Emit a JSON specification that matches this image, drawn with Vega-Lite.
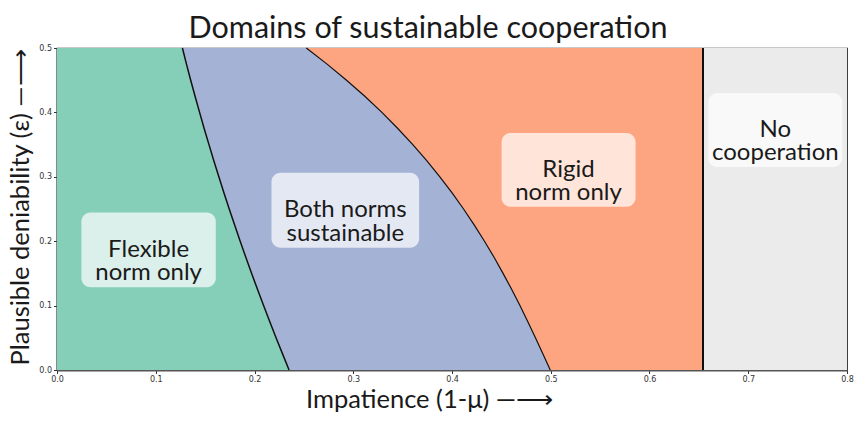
{
  "$schema": "https://vega.github.io/schema/vega-lite/v6.json",
  "width": 790,
  "height": 322,
  "autosize": {"type": "none"},
  "padding": {"left": 57, "top": 48, "right": 9, "bottom": 58},
  "background": "white",
  "title": {
    "text": "Domains of sustainable cooperation",
    "font": "Lato",
    "fontSize": 30.5,
    "fontWeight": "normal",
    "color": "#1a1a1a",
    "anchor": "middle",
    "frame": "group",
    "baseline": "alphabetic",
    "offset": 10,
    "dy": 34,
    "dx": -24
  },
  "config": {
    "view": {"stroke": "#2b2b2b", "strokeWidth": 1.2},
    "axis": {
      "grid": false,
      "labelFont": "DejaVu Sans",
      "labelFontSize": 8,
      "labelColor": "#333",
      "labelFlush": false,
      "tickColor": "#333",
      "tickSize": 3.5,
      "labelPadding": 2,
      "domainColor": "#555",
      "domainWidth": 2,
      "titleFont": "Lato",
      "titleFontSize": 25.5,
      "titleFontWeight": "normal",
      "titleColor": "#1a1a1a"
    }
  },
  "datasets": {
    "bounds": [
      {"eps": 0.0, "b1": 0.235, "b2": 0.4995},
      {"eps": 0.025, "b1": 0.2284, "b2": 0.4921},
      {"eps": 0.05, "b1": 0.2218, "b2": 0.4845},
      {"eps": 0.075, "b1": 0.2155, "b2": 0.4768},
      {"eps": 0.1, "b1": 0.2092, "b2": 0.4688},
      {"eps": 0.125, "b1": 0.2031, "b2": 0.4605},
      {"eps": 0.15, "b1": 0.1971, "b2": 0.4517},
      {"eps": 0.175, "b1": 0.1912, "b2": 0.4426},
      {"eps": 0.2, "b1": 0.1855, "b2": 0.4329},
      {"eps": 0.225, "b1": 0.1799, "b2": 0.4226},
      {"eps": 0.25, "b1": 0.1744, "b2": 0.4117},
      {"eps": 0.275, "b1": 0.1691, "b2": 0.4001},
      {"eps": 0.3, "b1": 0.1639, "b2": 0.3877},
      {"eps": 0.325, "b1": 0.1588, "b2": 0.3744},
      {"eps": 0.35, "b1": 0.1539, "b2": 0.3603},
      {"eps": 0.375, "b1": 0.149, "b2": 0.3451},
      {"eps": 0.4, "b1": 0.1444, "b2": 0.329},
      {"eps": 0.425, "b1": 0.1398, "b2": 0.3117},
      {"eps": 0.45, "b1": 0.1354, "b2": 0.2932},
      {"eps": 0.475, "b1": 0.1311, "b2": 0.2735},
      {"eps": 0.5, "b1": 0.127, "b2": 0.2525}
    ],
    "labels": [
      {"lines": ["Flexible", "norm only"], "cx": 0.0928, "cy": 0.1865, "bx1": 0.0247, "bx2": 0.1608, "by1": 0.1283, "by2": 0.2446},
      {"lines": ["Both norms", "sustainable"], "cx": 0.292, "cy": 0.248, "bx1": 0.2172, "bx2": 0.3667, "by1": 0.1898, "by2": 0.3061},
      {"lines": ["Rigid", "norm only"], "cx": 0.518, "cy": 0.3108, "bx1": 0.4502, "bx2": 0.5859, "by1": 0.2534, "by2": 0.3682},
      {"lines": ["No", "cooperation"], "cx": 0.7274, "cy": 0.3728, "bx1": 0.6595, "bx2": 0.7952, "by1": 0.3154, "by2": 0.4302}
    ]
  },
  "layer": [
    {
      "data": {"name": "bounds"},
      "mark": {"type": "area", "orient": "horizontal", "color": "#85ceb7", "opacity": 1},
      "encoding": {
        "y": {
          "field": "eps", "type": "quantitative",
          "scale": {"domain": [0, 0.5], "nice": false, "zero": false},
          "axis": {
            "values": [0, 0.1, 0.2, 0.3, 0.4, 0.5], "format": ".1f",
            "title": "Plausible deniability (ε) —⟶",
            "titleAngle": -90, "titleX": -29, "titleY": 159,
            "titleAlign": "center", "titleBaseline": "alphabetic"
          }
        },
        "x": {
          "field": "b1", "type": "quantitative",
          "scale": {"domain": [0, 0.8], "nice": false, "zero": false},
          "axis": {
            "values": [0, 0.1, 0.2, 0.3, 0.4, 0.5, 0.6, 0.7, 0.8], "format": ".1f",
            "title": "Impatience (1-μ) —⟶",
            "titleX": 372, "titleY": 37,
            "titleAlign": "center", "titleBaseline": "alphabetic"
          }
        },
        "x2": {"datum": 0}
      }
    },
    {
      "data": {"name": "bounds"},
      "mark": {"type": "area", "orient": "horizontal", "color": "#a4b2d5", "opacity": 1},
      "encoding": {
        "y": {"field": "eps", "type": "quantitative"},
        "x": {"field": "b1", "type": "quantitative"},
        "x2": {"field": "b2"}
      }
    },
    {
      "data": {"name": "bounds"},
      "mark": {"type": "area", "orient": "horizontal", "color": "#fda481", "opacity": 1},
      "encoding": {
        "y": {"field": "eps", "type": "quantitative"},
        "x": {"field": "b2", "type": "quantitative"},
        "x2": {"datum": 0.6545}
      }
    },
    {
      "data": {"name": "bounds"},
      "mark": {"type": "area", "orient": "horizontal", "color": "#ebebeb", "opacity": 1},
      "encoding": {
        "y": {"field": "eps", "type": "quantitative"},
        "x": {"datum": 0.6545, "type": "quantitative"},
        "x2": {"datum": 0.8}
      }
    },
    {
      "data": {"name": "bounds"},
      "mark": {"type": "line", "color": "#111", "strokeWidth": 1.5},
      "encoding": {
        "y": {"field": "eps", "type": "quantitative"},
        "x": {"field": "b1", "type": "quantitative"},
        "order": {"field": "eps"}
      }
    },
    {
      "data": {"name": "bounds"},
      "mark": {"type": "line", "color": "#111", "strokeWidth": 1.2},
      "encoding": {
        "y": {"field": "eps", "type": "quantitative"},
        "x": {"field": "b2", "type": "quantitative"},
        "order": {"field": "eps"}
      }
    },
    {
      "data": {"name": "bounds"},
      "mark": {"type": "rule", "color": "#111", "strokeWidth": 1.2},
      "encoding": {
        "x": {"datum": 0.6545, "type": "quantitative"}
      }
    },
    {
      "data": {"name": "labels"},
      "mark": {"type": "rect", "color": "white", "opacity": 0.7, "cornerRadius": 9},
      "encoding": {
        "x": {"field": "bx1", "type": "quantitative"},
        "x2": {"field": "bx2"},
        "y": {"field": "by1", "type": "quantitative"},
        "y2": {"field": "by2"}
      }
    },
    {
      "data": {"name": "labels"},
      "mark": {"type": "text", "font": "Lato", "fontSize": 24, "lineHeight": 23.5, "color": "#1a1a1a", "align": "center", "baseline": "middle"},
      "encoding": {
        "x": {"field": "cx", "type": "quantitative"},
        "y": {"field": "cy", "type": "quantitative"},
        "text": {"field": "lines"}
      }
    }
  ]
}
